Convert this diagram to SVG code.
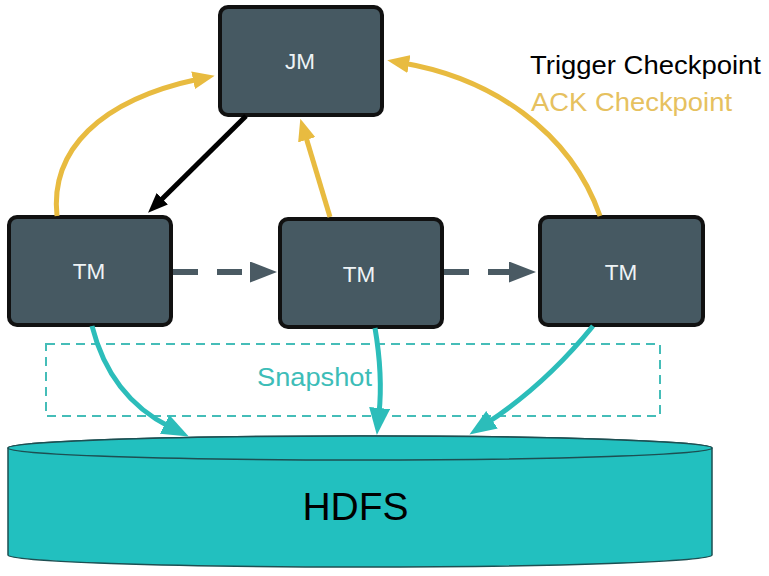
<svg xmlns="http://www.w3.org/2000/svg" width="769" height="576" viewBox="0 0 769 576">
<defs>
<style>
.box{fill:#465962;stroke:#111;stroke-width:4}
.lbl{font-family:"Liberation Sans",Arial,sans-serif;font-size:22.5px;fill:#eef3f5;text-anchor:middle}
.ack{fill:none;stroke:#e8bb40;stroke-width:5;marker-end:url(#mY)}
.snap{fill:none;stroke:#2cbdba;stroke-width:5;marker-end:url(#mT)}
.flow{fill:none;stroke:#4a5a63;stroke-width:6;stroke-dasharray:25 19;marker-end:url(#mG)}
.trig{fill:none;stroke:#000;stroke-width:5;marker-end:url(#mB)}
</style>
<marker id="mY" markerUnits="userSpaceOnUse" markerWidth="22" markerHeight="18" refX="6" refY="9" orient="auto"><path d="M0,0 L22,9 L0,18 z" fill="#e8bb40"/></marker>
<marker id="mB" markerUnits="userSpaceOnUse" markerWidth="20" markerHeight="16" refX="6" refY="8" orient="auto"><path d="M0,0 L20,8 L0,16 z" fill="#000"/></marker>
<marker id="mT" markerUnits="userSpaceOnUse" markerWidth="27" markerHeight="21" refX="6" refY="10.5" orient="auto"><path d="M0,0 L27,10.5 L0,21 z" fill="#2cbdba"/></marker>
<marker id="mG" markerUnits="userSpaceOnUse" markerWidth="27" markerHeight="21" refX="0" refY="10.5" orient="auto"><path d="M0,0 L27,10.5 L0,21 z" fill="#4a5a63"/></marker>
</defs>
<rect width="769" height="576" fill="#fff"/>

<g id="hdfs">
<path d="M8,448 A352,12 0 0 1 712,448 L712,555 A352,12 0 0 1 8,555 Z" fill="#22c0bf" stroke="#1d4f52" stroke-width="1.5"/>
<ellipse cx="360" cy="448" rx="352" ry="12" fill="#22c0bf" stroke="#1d4f52" stroke-width="1.5"/>
<text x="355.5" y="520" font-family="'Liberation Sans',Arial,sans-serif" font-size="39" fill="#000" text-anchor="middle">HDFS</text>
</g>

<g id="snapshot">
<rect x="46" y="344" width="614" height="72" fill="none" stroke="#45bdb8" stroke-width="2" stroke-dasharray="9 6"/>
<text x="257" y="386" font-family="'Liberation Sans',Arial,sans-serif" font-size="26" fill="#3dbdb8" textLength="115" lengthAdjust="spacingAndGlyphs">Snapshot</text>
</g>

<g id="jm">
<rect class="box" x="220" y="7" width="162" height="108" rx="8"/>
<text class="lbl" x="300" y="69">JM</text>
</g>
<g id="tm1">
<rect class="box" x="9" y="217" width="162" height="108" rx="8"/>
<text class="lbl" x="89" y="279">TM</text>
</g>
<g id="tm2">
<rect class="box" x="280" y="219" width="162" height="108" rx="8"/>
<text class="lbl" x="359" y="282">TM</text>
</g>
<g id="tm3">
<rect class="box" x="540" y="217" width="163" height="108" rx="8"/>
<text class="lbl" x="621" y="280">TM</text>
</g>

<g id="legend" font-family="'Liberation Sans',Arial,sans-serif" font-size="25.5">
<text x="530" y="74" fill="#000" textLength="231" lengthAdjust="spacingAndGlyphs">Trigger Checkpoint</text>
<text x="531" y="111" fill="#e6c15f" textLength="201" lengthAdjust="spacingAndGlyphs">ACK Checkpoint</text>
</g>

<g id="connectors">
<path class="trig" d="M246,116 L158,203"/>
<path class="ack" d="M57,216 C50,150 100,100 199,79"/>
<path class="ack" d="M330,217 Q316,170 305,134"/>
<path class="ack" d="M600,216 C570,130 490,78 403,63"/>
<path class="flow" d="M173,272 L250,272"/>
<path class="flow" d="M444,272 L509,272"/>
<path class="snap" d="M92,326 Q110,397 170,427"/>
<path class="snap" d="M375,328 Q383,375 379,414"/>
<path class="snap" d="M593,326 Q545,385 487,423"/>
</g>
</svg>
